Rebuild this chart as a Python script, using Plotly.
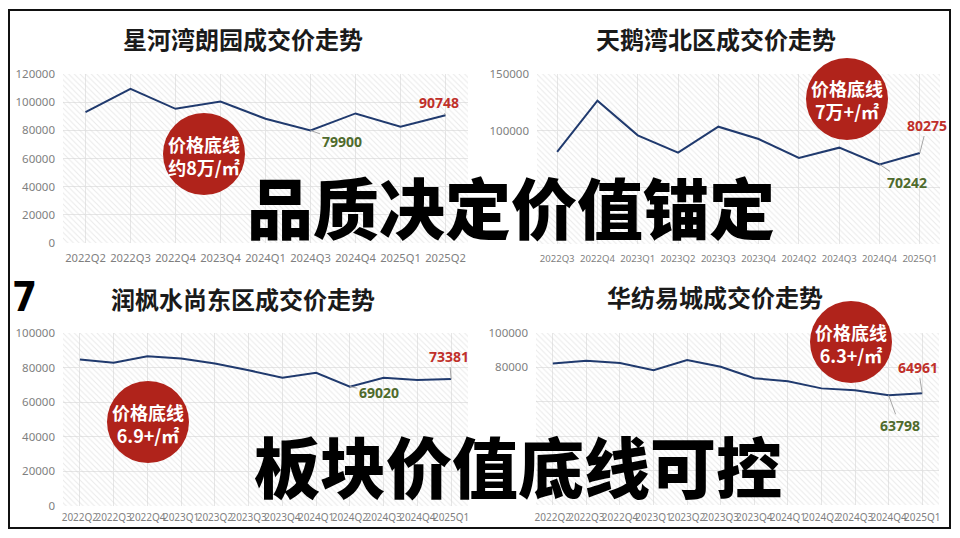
import plotly.graph_objects as go

# ---------------- data ----------------
tl_title = "星河湾朗园成交价走势"
tl_quarters = ["2022Q2", "2022Q3", "2022Q4", "2023Q4", "2024Q1", "2024Q3", "2024Q4", "2025Q1", "2025Q2"]
tl_prices = [93000, 109500, 95300, 100500, 88200, 79900, 92000, 82500, 90748]

tr_title = "天鹅湾北区成交价走势"
tr_quarters = ["2022Q3", "2022Q4", "2023Q1", "2023Q2", "2023Q3", "2023Q4", "2024Q2", "2024Q3", "2024Q4", "2025Q1"]
tr_prices = [81200, 126500, 95900, 80600, 103500, 92600, 75900, 85000, 70242, 80275]

bl_title = "润枫水尚东区成交价走势"
bl_quarters = ["2022Q2", "2022Q3", "2022Q4", "2023Q1", "2023Q2", "2023Q3", "2023Q4", "2024Q1", "2024Q2", "2024Q3", "2024Q4", "2025Q1"]
bl_prices = [84700, 82800, 86600, 85200, 82400, 78500, 74100, 77000, 69020, 74100, 72800, 73381]

br_title = "华纺易城成交价走势"
br_quarters = ["2022Q2", "2022Q3", "2022Q4", "2023Q1", "2023Q2", "2023Q3", "2023Q4", "2024Q1", "2024Q2", "2024Q3", "2024Q4", "2025Q1"]
br_prices = [82200, 83900, 82500, 78400, 84300, 80400, 73700, 72000, 67800, 66700, 63798, 64961]

tl_ticks = [0, 20000, 40000, 60000, 80000, 100000, 120000]
tl_ticktext = ["0", "20000", "40000", "60000", "80000", "100000", "120000"]
tr_ticks = [0, 50000, 100000, 150000]
tr_ticktext = ["", "", "100000", "150000"]
bl_ticks = [0, 20000, 40000, 60000, 80000, 100000]
bl_ticktext = ["0", "20000", "40000", "60000", "80000", "100000"]
br_ticks = [0, 20000, 40000, 60000, 80000, 100000]
br_ticktext = ["", "", "", "", "80000", "100000"]

floor_texts = ["价格底线<br>约8万/㎡", "价格底线<br>7万+/㎡", "价格底线<br>6.9+/㎡", "价格底线<br>6.3+/㎡"]
headline_top = "品质决定价值锚定"
headline_bottom = "板块价值底线可控"
page_number = "7"

# ---------------- layout helpers ----------------
W, H = 960, 538


def px_x(v):
    return v / W


def px_y(v):
    return 1 - v / H


LINE = "#203a6e"
RED = "#c0302a"
GREEN = "#4f6b2c"
CIRCLE = "#b0231b"
GRAY_TXT = "#7f7f7f"

panels = [
    dict(title=tl_title, x=tl_quarters, y=tl_prices, rng=[0, 120000], tv=tl_ticks, tt=tl_ticktext,
         dom_x=(63, 468), dom_y=(74, 243), tfont=("Noto Sans, DejaVu Sans", 11.2), xstand=7, title_xy=(243, 39),
         hi_off=(-7, -13), lo_off=(31, 11), circle=(204, 154), ftxt=floor_texts[0]),
    dict(title=tr_title, x=tr_quarters, y=tr_prices, rng=[0, 150000], tv=tr_ticks, tt=tr_ticktext,
         dom_x=(537, 940), dom_y=(74, 244), tfont=("Noto Sans, DejaVu Sans", 9.6), xstand=7, title_xy=(716, 39),
         hi_off=(7, -28), lo_off=(27, 18), circle=(847, 99), ftxt=floor_texts[1]),
    dict(title=bl_title, x=bl_quarters, y=bl_prices, rng=[0, 100000], tv=bl_ticks, tt=bl_ticktext,
         dom_x=(63, 468), dom_y=(333, 506), tfont=("Liberation Sans Narrow, Noto Sans", 10), xstand=4, title_xy=(243, 298),
         hi_off=(-2, -23), lo_off=(29, 6), circle=(148, 422), ftxt=floor_texts[2]),
    dict(title=br_title, x=br_quarters, y=br_prices, rng=[0, 100000], tv=br_ticks, tt=br_ticktext,
         dom_x=(536, 939), dom_y=(333, 505), tfont=("Liberation Sans Narrow, Noto Sans", 10), xstand=5, title_xy=(715, 297),
         hi_off=(-4, -26), lo_off=(11, 30), circle=(851, 342), ftxt=floor_texts[3]),
]

fig = go.Figure()
annotations = []
shapes = []
layout_axes = {}


def center_note(text, cx, cy, font):
    return dict(text=text, xref="paper", yref="paper", x=px_x(cx), y=px_y(cy),
                xanchor="center", yanchor="middle", showarrow=False, align="center", font=font)


for i, p in enumerate(panels, start=1):
    xa = "x" if i == 1 else f"x{i}"
    ya = "y" if i == 1 else f"y{i}"
    # hatched plot-area background: one full-height bar per category slot
    fig.add_trace(go.Bar(x=p["x"], y=[p["rng"][1]] * len(p["x"]), xaxis=xa, yaxis=ya, width=1,
                         marker=dict(color="rgba(255,255,255,0)", line=dict(width=0),
                                     pattern=dict(shape="\\", fgcolor="#d4d4d4", bgcolor="rgba(255,255,255,0)",
                                                  size=4, solidity=0.25)),
                         showlegend=False, hoverinfo="skip"))
    fig.add_trace(go.Scatter(x=p["x"], y=p["y"], mode="lines", xaxis=xa, yaxis=ya,
                             line=dict(color=LINE, width=2), showlegend=False, hoverinfo="x+y"))
    x0, x1 = p["dom_x"]
    y0, y1 = p["dom_y"]
    layout_axes["xaxis" if i == 1 else f"xaxis{i}"] = dict(
        domain=[px_x(x0), px_x(x1)], anchor=ya, type="category", automargin=False,
        range=[-0.5, len(p["x"]) - 0.5], showgrid=True, gridcolor="#e6e6e6", gridwidth=1,
        showline=False, zeroline=False, ticks="", ticklabelstandoff=p["xstand"],
        tickfont=dict(family=p["tfont"][0], size=p["tfont"][1], color=GRAY_TXT),
        tickangle=0, fixedrange=True,
    )
    layout_axes["yaxis" if i == 1 else f"yaxis{i}"] = dict(
        domain=[px_y(y1), px_y(y0)], anchor=xa, range=p["rng"], tickvals=p["tv"], ticktext=p["tt"],
        automargin=False,
        showgrid=True, gridcolor="#e6e6e6", gridwidth=1, showline=False, zeroline=False, ticks="",
        ticklabelstandoff=7,
        tickfont=dict(family="Noto Sans, DejaVu Sans", size=11.5, color=GRAY_TXT), fixedrange=True,
    )
    # title
    annotations.append(center_note(p["title"], p["title_xy"][0], p["title_xy"][1],
                                   dict(family="Noto Sans CJK SC", size=24, color="#1a1a1a", weight=700)))
    # callouts: last point (red) and minimum (green)
    last = len(p["y"]) - 1
    lo = p["y"].index(min(p["y"]))
    for idx, col, off in [(last, RED, p["hi_off"]), (lo, GREEN, p["lo_off"])]:
        annotations.append(dict(text=f"<b>{p['y'][idx]}</b>", x=p["x"][idx], y=p["y"][idx],
                                xref=xa, yref=ya, showarrow=True, arrowhead=0, arrowwidth=1,
                                arrowcolor="#a6a6a6", ax=off[0], ay=off[1], standoff=0,
                                xanchor="center", yanchor="middle",
                                font=dict(family="Noto Sans, DejaVu Sans", size=14, color=col)))
    # red floor circle
    cx, cy = p["circle"]
    r = 41
    shapes.append(dict(type="circle", xref="paper", yref="paper",
                       x0=px_x(cx - r), x1=px_x(cx + r), y0=px_y(cy + r), y1=px_y(cy - r),
                       fillcolor=CIRCLE, line=dict(width=0), layer="above"))
    annotations.append(center_note(p["ftxt"], cx, cy + 1,
                                   dict(family="Noto Sans CJK SC", size=18, color="white", weight=700)))

# headlines
annotations.append(center_note(headline_top, 511, 205,
                               dict(family="Noto Sans CJK SC", size=66, color="black", weight=900)))
annotations.append(center_note(headline_bottom, 518, 464,
                               dict(family="Noto Sans CJK SC", size=66, color="black", weight=900)))
annotations.append(center_note(page_number, 24, 297,
                               dict(family="Liberation Sans Narrow, DejaVu Sans Condensed", size=40,
                                    color="black", weight=700)))

# frame
shapes.append(dict(type="rect", xref="paper", yref="paper",
                   x0=px_x(9), x1=px_x(950), y0=px_y(528), y1=px_y(10),
                   line=dict(color="#111111", width=2), layer="above"))

fig.update_layout(
    width=W, height=H, margin=dict(l=0, r=0, t=0, b=0, pad=0, autoexpand=False),
    paper_bgcolor="white", plot_bgcolor="rgba(0,0,0,0)", bargap=0,
    annotations=annotations, shapes=shapes, showlegend=False,
    **layout_axes,
)

fig.write_html("out.html", config={"displayModeBar": False},
               post_script="document.body.style.margin='0';document.body.style.overflow='hidden';")
